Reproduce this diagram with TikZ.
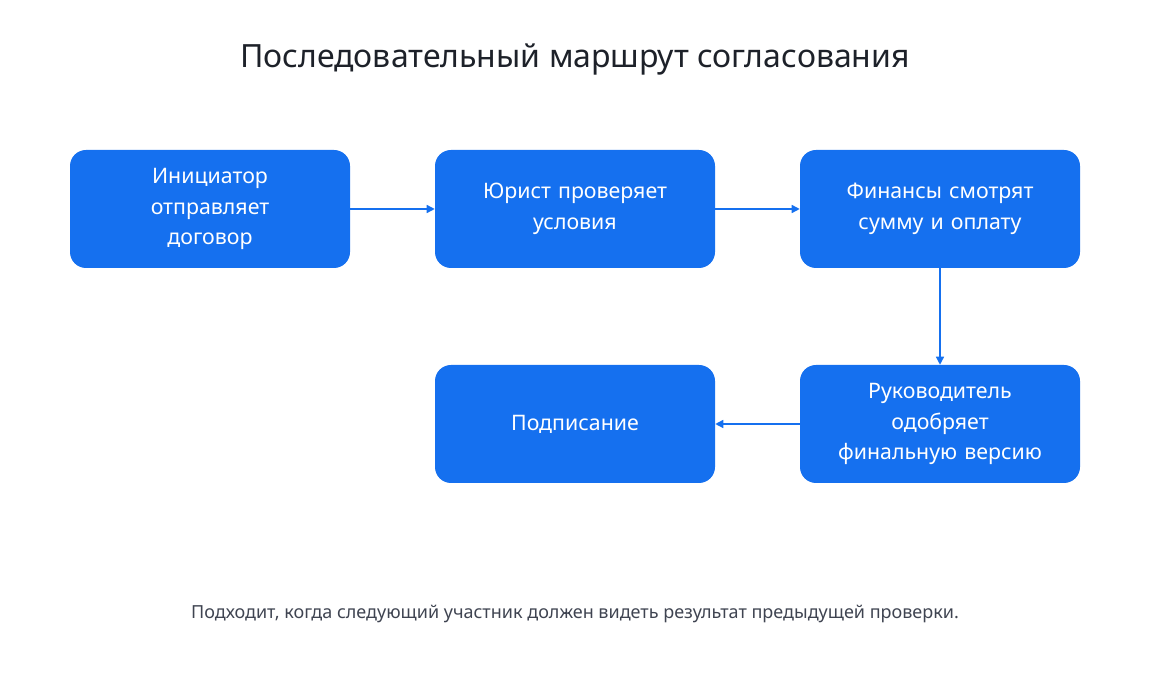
\documentclass[tikz,border=0pt]{standalone}
\usepackage{fontspec}
\setmainfont{Noto Sans}
\usetikzlibrary{arrows.meta, positioning}
\definecolor{stepblue}{HTML}{1570EF}
\definecolor{noteGray}{HTML}{3F4451}
\definecolor{titleDark}{HTML}{1D2129}

\begin{document}
\begin{tikzpicture}[x=0.75pt, y=-0.75pt,
        stage/.style={draw=none, fill=stepblue, rounded corners=12pt, minimum width=210pt, minimum height=88.5pt,
            text width=190pt, align=center, text=white, font=\fontsize{16}{23}\selectfont\bfseries},
        flow/.style={draw=stepblue, line width=1pt, -{Triangle[length=6pt, width=6pt]}}]
        \useasboundingbox (0,0) rectangle (1150,680);
        
        \node[font=\fontsize{24}{28}\selectfont, text=titleDark] (title) at (575,60) {Последовательный маршрут согласования};
        
        \node[stage] (init) at (210,209) {Инициатор\\отправляет\\договор};
        \node[stage] (lawyer) at (575,209) {Юрист проверяет\\условия};
        \node[stage] (finance) at (940,209) {Финансы смотрят\\сумму и оплату};
        \node[stage] (head) at (940,424) {Руководитель\\одобряет\\финальную версию};
        \node[stage] (sign) at (575,424) {Подписание};
        
        \draw[flow] (init) -- (lawyer);
        \draw[flow] (lawyer) -- (finance);
        \draw[flow] (finance) -- (head);
        \draw[flow] (head) -- (sign);
        
        \node[font=\fontsize{13.5}{16}\selectfont, text=noteGray] (note) at (575,614) {Подходит, когда следующий участник должен видеть результат предыдущей проверки.};
    \end{tikzpicture}
\end{document}
